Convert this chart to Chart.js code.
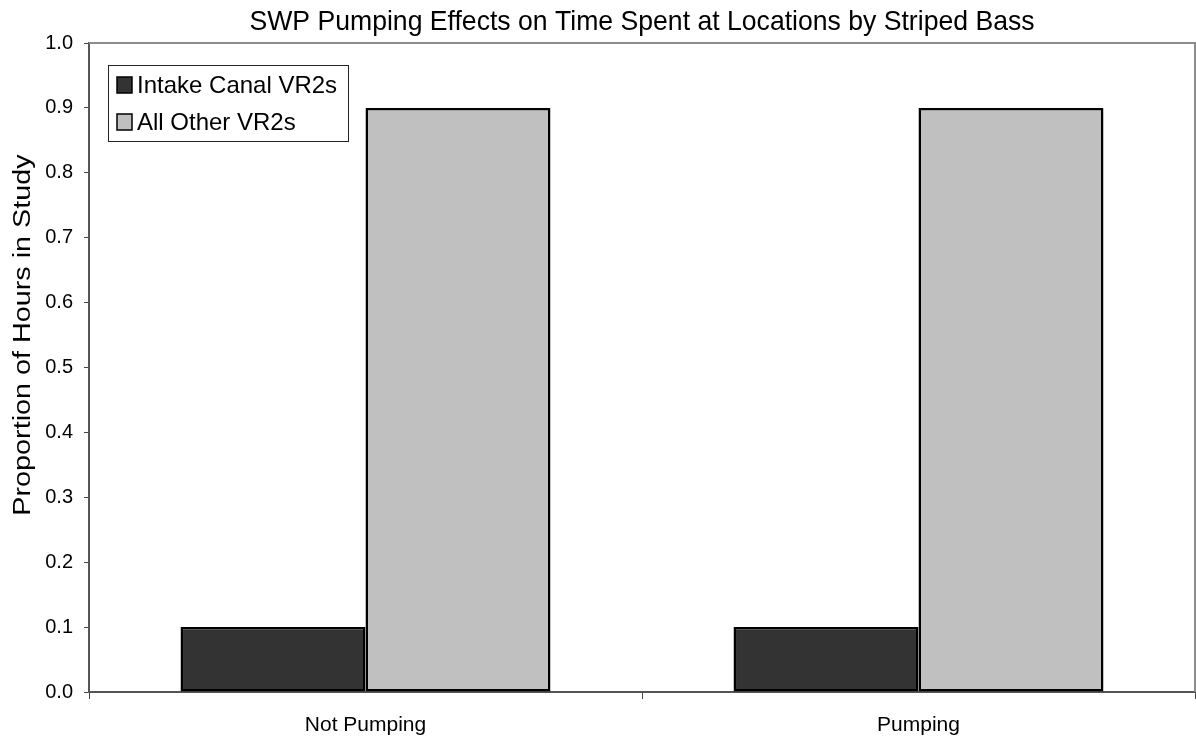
<!DOCTYPE html>
<html>
<head>
<meta charset="utf-8">
<script src="https://cdn.jsdelivr.net/npm/chart.js@4.4.1/dist/chart.umd.min.js"></script>
<style>
  html, body { margin: 0; padding: 0; background: #fff; }
  #wrap { width: 1196px; height: 740px; }
</style>
</head>
<body>
<div id="wrap"><canvas id="chart" width="1196" height="740"></canvas></div>
<script>
const categories = ["Not Pumping", "Pumping"];
const intakeCanal = [0.1, 0.1];
const allOther = [0.9, 0.9];
const seriesNames = ["Intake Canal VR2s", "All Other VR2s"];
const seriesColors = ["#333333", "#c0c0c0"];
const chartTitle = "SWP Pumping Effects on Time Spent at Locations by Striped Bass";
const yTitle = "Proportion of Hours in Study";

const FONT = "'Liberation Sans', Arial, sans-serif";

// plot frame (gray top/right edges like the spreadsheet plot area)
const frame = {
  id: "frame",
  beforeDatasetsDraw(chart) {
    const { ctx, chartArea: a } = chart;
    ctx.save();
    ctx.strokeStyle = "#8c8c8c";
    ctx.lineWidth = 2;
    ctx.beginPath();
    ctx.moveTo(a.left, a.top);
    ctx.lineTo(a.right, a.top);
    ctx.lineTo(a.right, a.bottom);
    ctx.stroke();
    ctx.restore();
  }
};

// titles: main one centred over the plot, axis one rotated on the left
// (both a little stretched, the way the spreadsheet export draws them)
const titles = {
  id: "titles",
  afterDraw(chart) {
    const { ctx, chartArea: a } = chart;
    ctx.save();
    ctx.fillStyle = "#000";
    ctx.textAlign = "center";
    ctx.textBaseline = "middle";

    ctx.save();
    ctx.translate((a.left + a.right) / 2, 22);
    ctx.scale(0.95, 1);
    ctx.font = "28px " + FONT;
    ctx.fillText(chartTitle, 0, 0);
    ctx.restore();

    ctx.translate(23, a.top + (a.bottom - a.top) * 0.45);
    ctx.rotate(-Math.PI / 2);
    ctx.scale(1.25, 1);
    ctx.font = "23px " + FONT;
    ctx.fillText(yTitle, 0, 1);
    ctx.restore();
  }
};

// boxed legend sitting in the upper left of the plot
const boxLegend = {
  id: "boxLegend",
  afterDraw(chart) {
    const { ctx, chartArea: a } = chart;
    const x = a.left + 19, y = a.top + 22, w = 240, h = 76;
    ctx.save();
    ctx.fillStyle = "#fff";
    ctx.fillRect(x, y, w, h);
    ctx.strokeStyle = "#222";
    ctx.lineWidth = 1;
    ctx.strokeRect(x + 0.5, y + 0.5, w, h);
    ctx.font = "24px " + FONT;
    ctx.textBaseline = "middle";
    chart.data.datasets.forEach((ds, i) => {
      const cy = y + 20 + i * 37;
      ctx.fillStyle = ds.backgroundColor;
      ctx.fillRect(x + 9, cy - 8, 15, 16);
      ctx.strokeStyle = "#000";
      ctx.lineWidth = 1.5;
      ctx.strokeRect(x + 9, cy - 8, 15, 16);
      ctx.fillStyle = "#000";
      ctx.fillText(ds.label, x + 29, cy + 1);
    });
    ctx.restore();
  }
};

new Chart(document.getElementById("chart"), {
  type: "bar",
  data: {
    labels: categories,
    datasets: [
      { label: seriesNames[0], data: intakeCanal, backgroundColor: seriesColors[0] },
      { label: seriesNames[1], data: allOther, backgroundColor: seriesColors[1] }
    ]
  },
  options: {
    responsive: false,
    animation: false,
    layout: { padding: { left: 0, right: 1, top: 43, bottom: 0 } },
    datasets: {
      bar: {
        borderColor: "#000",
        borderWidth: 2.5,
        borderSkipped: false,
        categoryPercentage: 0.669,
        barPercentage: 1
      }
    },
    plugins: {
      legend: { display: false },
      tooltip: { enabled: false },
      title: { display: false }
    },
    scales: {
      x: {
        grid: { offset: true, drawOnChartArea: false, drawTicks: true, tickLength: 7, color: "#444" },
        border: { color: "#555", width: 2 },
        ticks: { color: "#000", font: { family: FONT, size: 21 }, padding: 14 },
        afterFit(s) { s.height = 48; }
      },
      y: {
        min: 0,
        max: 1,
        grid: { drawOnChartArea: false, drawTicks: true, tickLength: 5, color: "#444" },
        border: { color: "#555", width: 2 },
        ticks: {
          stepSize: 0.1,
          color: "#000",
          font: { family: FONT, size: 20 },
          padding: 11,
          callback: v => v.toFixed(1)
        },
        afterFit(s) { s.width = 89; }
      }
    }
  },
  plugins: [frame, titles, boxLegend]
});
</script>
</body>
</html>
